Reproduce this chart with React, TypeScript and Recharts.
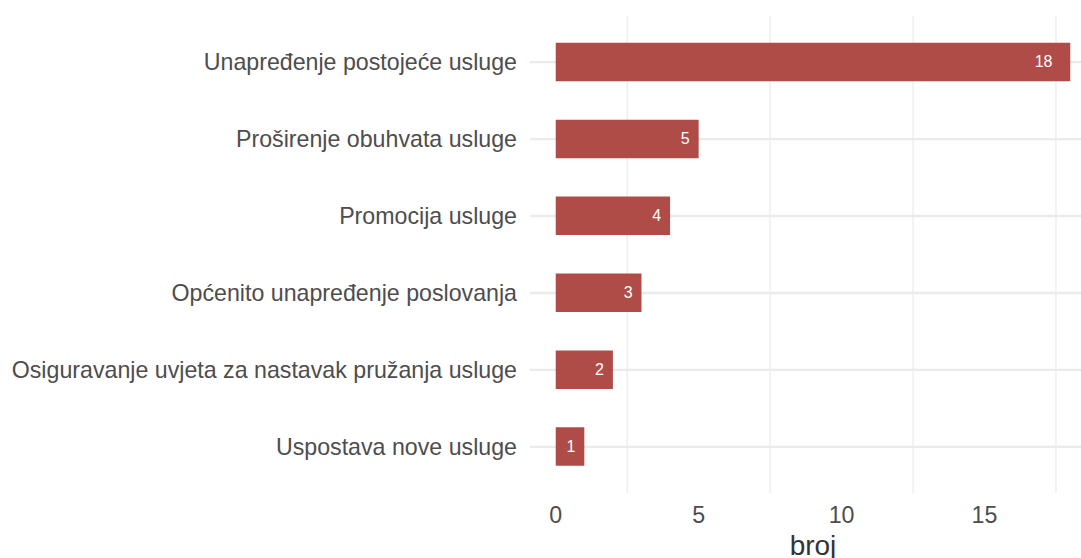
import { BarChart, Bar, XAxis, YAxis, CartesianGrid, LabelList, Label } from 'recharts';

const CATEGORIES = [
  'Unapređenje postojeće usluge',
  'Proširenje obuhvata usluge',
  'Promocija usluge',
  'Općenito unapređenje poslovanja',
  'Osiguravanje uvjeta za nastavak pružanja usluge',
  'Uspostava nove usluge',
];
const COUNTS = [18, 5, 4, 3, 2, 1];
const X_TICKS = [0, 5, 10, 15];
const X_MINOR = [2.5, 7.5, 12.5, 17.5];

const BAR_COLOR = '#af4c47';
const GRID_COLOR = '#ebebeb';
const FONT = '"Liberation Sans", Arial, sans-serif';
const LABEL_SIZE = 16;
const AXIS_SIZE = 23.2;

const data = CATEGORIES.map((name, i) => ({ name, broj: COUNTS[i] }));

// value labels sit inside the bar end, like hjust = 2 in ggplot
const renderValue = (props: any) => {
  const { x, y, width, height, value } = props;
  const textW = String(value).length * 0.556 * LABEL_SIZE;
  return (
    <text
      x={x + width - 1.5 * textW}
      y={y + height / 2}
      fill="#ffffff"
      fontSize={LABEL_SIZE}
      fontFamily={FONT}
      textAnchor="middle"
      dominantBaseline="central"
    >
      {value}
    </text>
  );
};

export default function App() {
  return (
    <div style={{ position: 'absolute', left: 0, top: 0, width: 1081, height: 558, overflow: 'hidden', background: '#fff' }}>
      <BarChart
        width={1096}
        height={558}
        data={data}
        layout="vertical"
        margin={{ top: 16, right: 0, bottom: 0, left: 0 }}
        style={{ fontFamily: FONT }}
      >
        <CartesianGrid vertical={false} stroke={GRID_COLOR} strokeWidth={2.4} syncWithTicks />
        <CartesianGrid horizontal={false} stroke={GRID_COLOR} strokeWidth={1.2} verticalValues={X_MINOR} syncWithTicks />
        <XAxis
          type="number"
          domain={[-0.9, 18.9]}
          allowDataOverflow
          ticks={X_TICKS}
          axisLine={false}
          tickLine={false}
          tickSize={0}
          tickMargin={14}
          height={65}
          tick={{ fill: '#4d4d4d', fontSize: AXIS_SIZE, fontFamily: FONT }}
        >
          <Label value="broj" position="insideBottom" offset={3} fill="#333333" fontSize={28} fontFamily={FONT} />
        </XAxis>
        <YAxis
          type="category"
          dataKey="name"
          width={530}
          axisLine={false}
          tickLine={false}
          tickSize={0}
          tickMargin={13}
          padding={{ top: 7.7, bottom: 7.7 }}
          interval={0}
          tick={{ fill: '#4d4d4d', fontSize: AXIS_SIZE, fontFamily: FONT }}
        />
        <Bar dataKey="broj" fill={BAR_COLOR} barSize={38.5} isAnimationActive={false}>
          <LabelList dataKey="broj" content={renderValue} />
        </Bar>
      </BarChart>
    </div>
  );
}
